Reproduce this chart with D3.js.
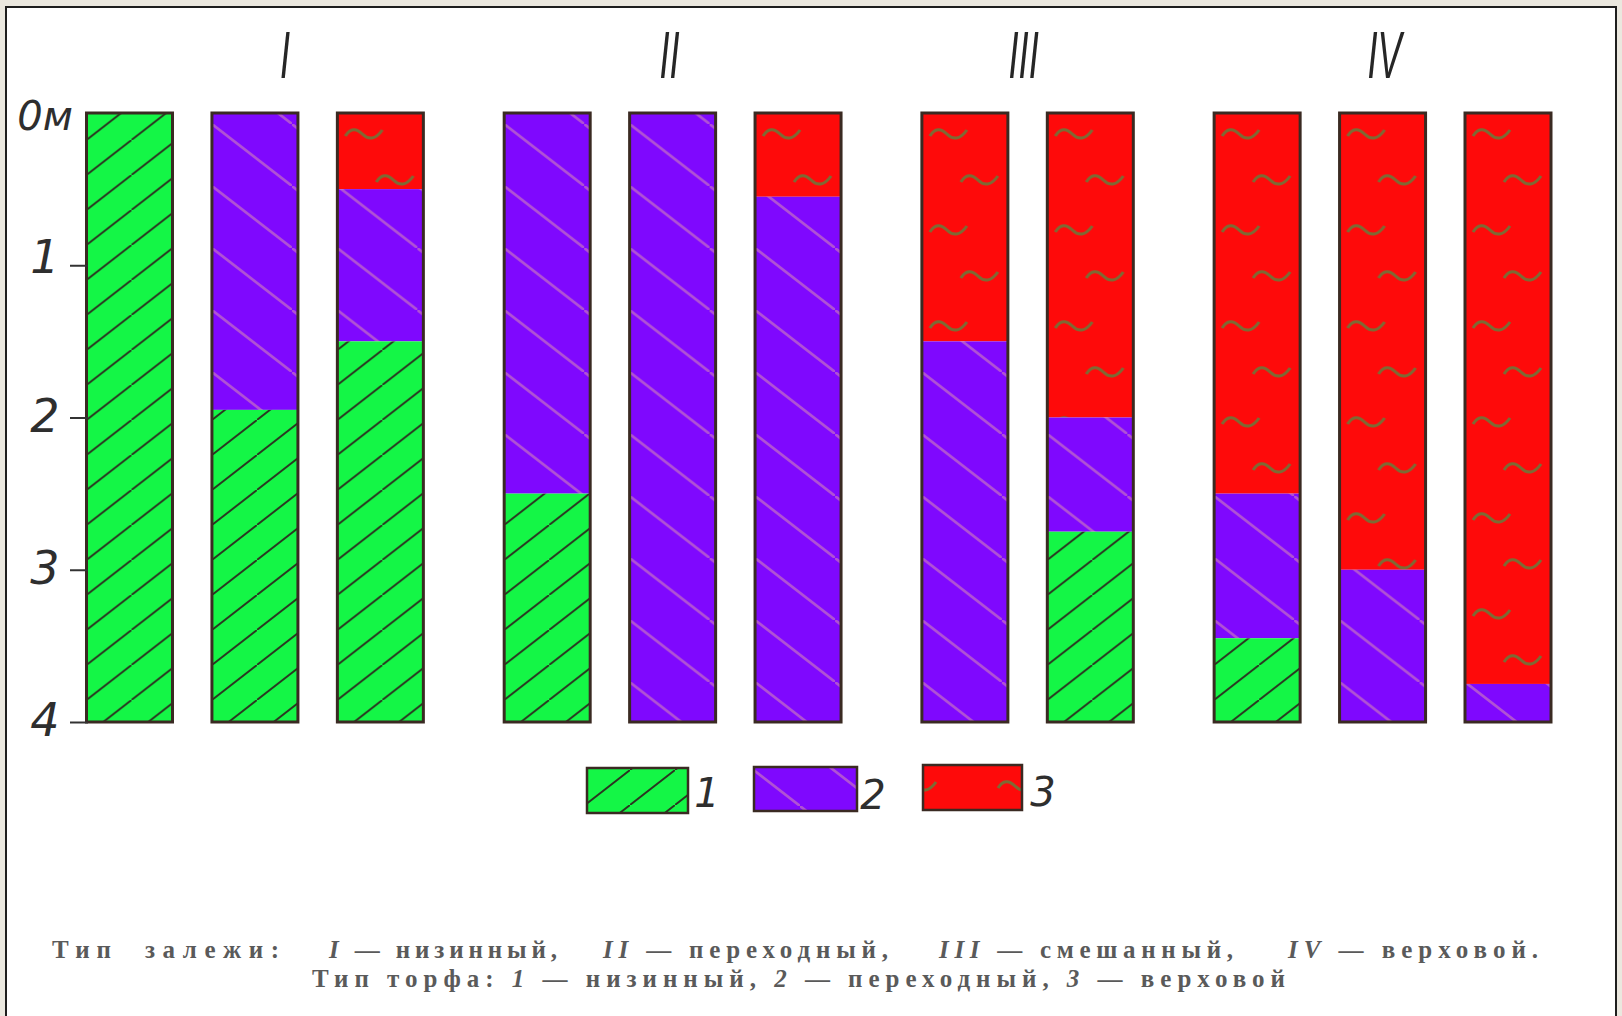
<!DOCTYPE html>
<html>
<head>
<meta charset="utf-8">
<script src="https://cdn.jsdelivr.net/npm/d3@7"></script>
<style>
  html, body { margin: 0; padding: 0; background: #ebe8df; }
  svg { display: block; }
</style>
</head>
<body>
<svg id="chart" width="1622" height="1016"></svg>
<script>
// ---- data ----
const groupLabels = ["I", "II", "III", "IV"];
const columnGroup = [0, 0, 0, 1, 1, 1, 2, 2, 3, 3, 3];
// layer thickness (m), from the surface downward: type 3 on top, then type 2, then type 1
const peatType3 = [0, 0, 0.5, 0, 0, 0.55, 1.5, 2.0, 2.5, 3.0, 3.75];
const peatType2 = [0, 1.95, 1.0, 2.5, 4, 3.45, 2.5, 0.75, 0.95, 1.0, 0.25];
const peatType1 = [4, 2.05, 2.5, 1.5, 0, 0, 0, 1.25, 0.55, 0, 0];
const depthTicks = [0, 1, 2, 3, 4];
const depthTickLabels = ["0м", "1", "2", "3", "4"];
const legendLabels = ["1", "2", "3"];
const captionLine1 = ["Тип", "залежи:", "I — низинный,", "II — переходный,", "III — смешанный,", "IV — верховой."];
const captionLine2 = "Тип торфа: 1 — низинный, 2 — переходный, 3 — верховой";

// ---- styles ----
const GREEN = "#14f646", PURPLE = "#7f08fe", RED = "#fe0a0a";
const OUTLINE = "#3a2a22";

const svg = d3.select("#chart");
const defs = svg.append("defs");

// frame
svg.append("rect").attr("x", 6).attr("y", 7).attr("width", 1610).attr("height", 1030)
  .attr("fill", "#ffffff").attr("stroke", "#1e1e1e").attr("stroke-width", 2);

// scales
const GAP = 0.33;
const slots = columnGroup.map((g, i) => i + GAP * g);
const x = d3.scaleLinear().domain([0, 10 + GAP * 3]).range([129.5, 1508]);
const y = d3.scaleLinear().domain([0, 4]).range([113, 722]);
const barW = 86;

// patterns
const pg = defs.append("pattern").attr("id", "hatchGreen").attr("patternUnits", "userSpaceOnUse")
  .attr("width", 45).attr("height", 35);
pg.append("rect").attr("width", 45).attr("height", 35).attr("fill", GREEN);
pg.append("path").attr("d", "M-4.5,38.5 L49.5,-3.5").attr("stroke", "#2a3520").attr("stroke-width", 1.9);

const pp = defs.append("pattern").attr("id", "hatchPurple").attr("patternUnits", "userSpaceOnUse")
  .attr("width", 80).attr("height", 62);
pp.append("rect").attr("width", 80).attr("height", 62).attr("fill", PURPLE);
pp.append("path").attr("d", "M-8,-6.2 L88,68.2").attr("stroke", "#b052d4").attr("stroke-width", 2.6);

const tildePath = "M0,7 C5,-1 11,-1 17,5 C23,11 30,11 37,1";
function makeRedPattern(id, w, yOrigin) {
  const pr = defs.append("pattern").attr("id", id).attr("patternUnits", "userSpaceOnUse")
    .attr("x", 0).attr("y", yOrigin).attr("width", w).attr("height", 96);
  pr.append("rect").attr("width", w).attr("height", 96).attr("fill", RED);
  pr.append("path").attr("d", tildePath).attr("transform", "translate(8,16)")
    .attr("fill", "none").attr("stroke", "#7d6a34").attr("stroke-width", 3);
  pr.append("path").attr("d", tildePath).attr("transform", `translate(${w - 47},62)`)
    .attr("fill", "none").attr("stroke", "#7d6a34").attr("stroke-width", 3);
}
makeRedPattern("tildeRed", barW, y(0));
makeRedPattern("tildeRedLegend", 99, 765);

const fills = { t3: "url(#tildeRed)", t2: "url(#hatchPurple)", t1: "url(#hatchGreen)" };

// stacked layers
const rows = peatType3.map((v, i) => ({ t3: v, t2: peatType2[i], t1: peatType1[i], i }));
const stack = d3.stack().keys(["t3", "t2", "t1"]);
const series = stack(rows);

const cols = svg.append("g").selectAll("g").data(rows).join("g")
  .attr("transform", d => `translate(${x(slots[d.i]) - barW / 2},0)`);

series.forEach(s => {
  cols.append("rect")
    .datum(d => s[d.i])
    .filter(d => d[1] - d[0] > 0)
    .attr("x", 0).attr("width", barW)
    .attr("y", d => y(d[0])).attr("height", d => y(d[1]) - y(d[0]))
    .attr("fill", fills[s.key]);
});
cols.append("rect").attr("x", 0).attr("width", barW)
  .attr("y", y(0)).attr("height", y(4) - y(0))
  .attr("fill", "none").attr("stroke", OUTLINE).attr("stroke-width", 3);

// group titles (Roman numerals)
const groupCenters = groupLabels.map((g, gi) => {
  const idx = columnGroup.map((c, i) => c === gi ? i : -1).filter(i => i >= 0);
  return d3.mean(idx, i => x(slots[i]));
});
const titleOffsets = [30, -3, -4, 2];
svg.append("g").selectAll("text").data(groupLabels).join("text")
  .attr("transform", (d, i) => `translate(${groupCenters[i] + titleOffsets[i]},78) scale(0.55,1)`)
  .attr("text-anchor", "middle")
  .attr("font-family", "Liberation Sans, sans-serif").attr("font-style", "italic")
  .attr("font-size", 66).attr("fill", "#262626")
  .text(d => d);

// depth axis
const axis = d3.axisLeft(y).tickValues(depthTicks).tickSize(18)
  .tickFormat((d, i) => depthTickLabels[i]).tickPadding(10);
const ax = svg.append("g").attr("transform", "translate(88,0)").call(axis);
ax.select(".domain").remove();
ax.selectAll(".tick line").attr("stroke", "#333").attr("stroke-width", 2)
  .attr("opacity", d => d === 0 ? 0 : 1);
ax.selectAll(".tick text")
  .attr("text-anchor", "middle").attr("x", -43)
  .attr("dy", (d) => d === 0 ? "0.4em" : (d === 1 ? "0.15em" : "0.3em"))
  .attr("font-family", "DejaVu Sans, sans-serif").attr("font-style", "italic")
  .attr("font-size", d => d === 0 ? 40 : 46).attr("fill", "#2e2e2e");

// legend
const legendData = [
  { fill: "url(#hatchGreen)", x: 587, y: 768, w: 101, h: 45, label: legendLabels[0], lx: 707, ly: 807 },
  { fill: "url(#hatchPurple)", x: 754, y: 767, w: 103, h: 44, label: legendLabels[1], lx: 873, ly: 809 },
  { fill: "url(#tildeRedLegend)", x: 923, y: 765, w: 99, h: 45, label: legendLabels[2], lx: 1043, ly: 806 }
];
const lg = svg.append("g");
lg.selectAll("rect").data(legendData).join("rect")
  .attr("x", d => d.x).attr("y", d => d.y).attr("width", d => d.w).attr("height", d => d.h)
  .attr("fill", d => d.fill).attr("stroke", OUTLINE).attr("stroke-width", 2.5);
lg.selectAll("text").data(legendData).join("text")
  .attr("x", d => d.lx).attr("y", d => d.ly).attr("text-anchor", "middle")
  .attr("font-family", "DejaVu Sans, sans-serif").attr("font-style", "italic")
  .attr("font-size", 40).attr("fill", "#2e2e2e").text(d => d.label);

// caption
const capStarts = [52, 145, 329, 603, 939, 1288];
const capEnds = [111, 279, 557, 888, 1233, 1538];
const cap = svg.append("g").attr("font-family", "Liberation Serif, serif")
  .attr("font-size", 25).attr("font-weight", "bold").attr("fill", "#5a5a5a");
captionLine1.forEach((t, i) => {
  const tx = cap.append("text").attr("x", capStarts[i]).attr("y", 958)
    .attr("textLength", capEnds[i] - capStarts[i]).attr("lengthAdjust", "spacing");
  const m = t.match(/^([IV]+)( — .*)$/);
  if (m) {
    tx.append("tspan").attr("font-style", "italic").text(m[1]);
    tx.append("tspan").text(m[2]);
  } else tx.text(t);
});
const t2 = cap.append("text").attr("x", 312).attr("y", 987)
  .attr("textLength", 1285 - 312).attr("lengthAdjust", "spacing");
captionLine2.split(/(\d)/).forEach(part => {
  if (/^\d$/.test(part)) t2.append("tspan").attr("font-style", "italic").text(part);
  else if (part) t2.append("tspan").text(part);
});
</script>
</body>
</html>
